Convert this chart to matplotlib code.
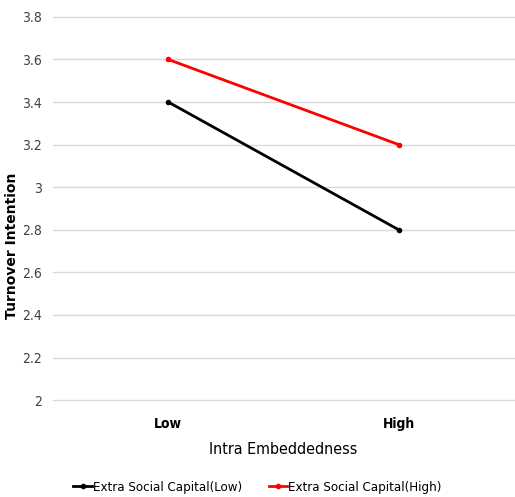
import matplotlib.pyplot as plt
from matplotlib import font_manager

# pick a narrow face if one is installed
narrow = None
for f in font_manager.fontManager.ttflist:
    if 'Narrow' in f.fname or 'Condensed' in f.fname:
        narrow = f
        break
plt.rcParams['font.family'] = [narrow.name if narrow else 'DejaVu Sans', 'DejaVu Sans']
if narrow is not None:
    plt.rcParams['font.stretch'] = narrow.stretch

categories = ['Low', 'High']
low_capital = [3.4, 2.8]
high_capital = [3.6, 3.2]
yticks = [2, 2.2, 2.4, 2.6, 2.8, 3, 3.2, 3.4, 3.6, 3.8]
ytick_labels = ['2', '2.2', '2.4', '2.6', '2.8', '3', '3.2', '3.4', '3.6', '3.8']

fig = plt.figure(figsize=(5.15, 4.97), dpi=100)
ax = fig.add_axes([0.103, 0.195, 0.895, 0.771])

x = list(range(len(categories)))
ax.plot(x, low_capital, color='black', lw=2, marker='o', ms=3,
        label='Extra Social Capital(Low)')
ax.plot(x, high_capital, color='#ff0000', lw=2, marker='o', ms=3,
        label='Extra Social Capital(High)')

ax.set_xlim(-0.5, 1.5)
ax.set_ylim(2, 3.8)
ax.set_yticks(yticks)
ax.set_yticklabels(ytick_labels)
ax.set_xticks(x)
ax.set_xticklabels(categories)
ax.grid(axis='y', color='#d9d9d9', lw=1)
for g in ax.get_ygridlines():
    g.set_clip_on(False)
ax.set_axisbelow(True)
for s in ax.spines.values():
    s.set_visible(False)
ax.tick_params(axis='y', length=0, labelsize=10, colors='#404040', pad=8)
ax.tick_params(axis='x', length=0, labelsize=10, colors='black', pad=12)
for t in ax.get_xticklabels():
    t.set_fontweight('bold')

ax.set_xlabel('Intra Embeddedness', fontsize=11.5, labelpad=8)
fig.text(0.024, 0.505, 'Turnover Intention', rotation=90, fontsize=10,
         fontweight='bold', family='DejaVu Sans', fontstretch='normal',
         ha='center', va='center')

fig.legend(loc='lower center', bbox_to_anchor=(0.5, -0.018), ncol=2,
           frameon=False, fontsize=9.5, handlelength=1.4, handletextpad=0.1,
           columnspacing=2.0)

fig.savefig('out.png', dpi=100)
